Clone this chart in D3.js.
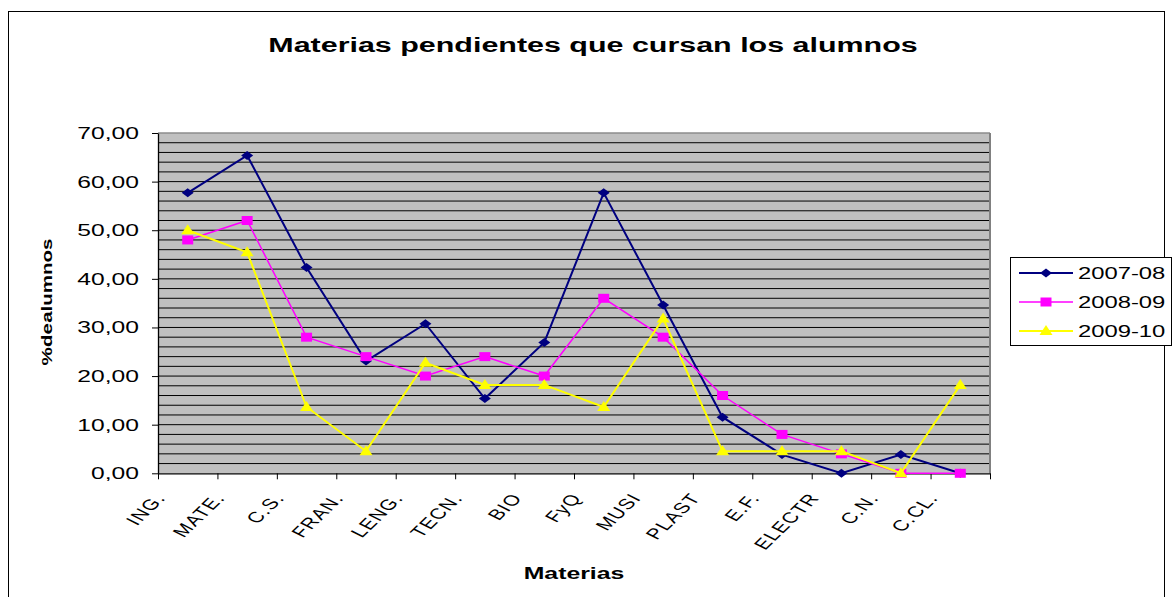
<!DOCTYPE html>
<html>
<head>
<meta charset="utf-8">
<script src="https://cdn.jsdelivr.net/npm/d3@7"></script>
<style>
  body { margin: 0; background: #fff; }
  text { font-family: Arial, "Liberation Sans", sans-serif; }
</style>
</head>
<body>
<div id="chart"></div>
<script>
// chart data
var materias = ["ING.", "MATE.", "C.S.", "FRAN.", "LENG.", "TECN.", "BIO", "FyQ", "MUSI", "PLAST", "E.F.", "ELECTR", "C.N.", "C.CL."];
var curso0708 = [57.69, 65.38, 42.31, 23.08, 30.77, 15.38, 26.92, 57.69, 34.62, 11.54, 3.85, 0, 3.85, 0];
var curso0809 = [48, 52, 28, 24, 20, 24, 20, 36, 28, 16, 8, 4, 0, 0];
var curso0910 = [50, 45.45, 13.64, 4.55, 22.73, 18.18, 18.18, 13.64, 31.82, 4.55, 4.55, 4.55, 0, 18.18];
var seriesNames = ["2007-08", "2008-09", "2009-10"];
var yTicks = [0, 10, 20, 30, 40, 50, 60, 70];

var series = [
  {name: seriesNames[0], values: curso0708, color: "#000080", width: 2, marker: "diamond"},
  {name: seriesNames[1], values: curso0809, color: "#ff00ff", width: 1.5, marker: "square"},
  {name: seriesNames[2], values: curso0910, color: "#ffff00", width: 2, marker: "triangle"}
];

// dimensions of the page and the plot area
var W = 1173, H = 597;
var plot = {left: 158, right: 990, top: 133, bottom: 473.3};
var stretch = 1.45; // the original picture is stretched horizontally

var svg = d3.select("#chart")
  .append("svg")
    .attr("width", W)
    .attr("height", H);

// outer frame
svg.append("rect")
  .attr("x", 8.5)
  .attr("y", 11.5)
  .attr("width", 1156)
  .attr("height", 620)
  .attr("fill", "#fff")
  .attr("stroke", "#000")
  .attr("stroke-width", 1);

// scales
var y = d3.scaleLinear()
  .domain([0, 70])
  .range([plot.bottom, plot.top]);

var x = d3.scaleBand()
  .domain(materias)
  .range([plot.left, plot.right])
  .padding(0);

var xIdx = d3.scaleLinear()
  .domain([0, materias.length])
  .range([plot.left, plot.right]);

// plot background
svg.append("rect")
  .attr("x", plot.left)
  .attr("y", plot.top)
  .attr("width", plot.right - plot.left)
  .attr("height", plot.bottom - plot.top)
  .attr("fill", "#c0c0c0");

// horizontal grid lines every 2 units
svg.append("g")
  .selectAll("line")
  .data(d3.range(2, 70, 2))
  .enter()
  .append("line")
    .attr("x1", plot.left)
    .attr("x2", plot.right)
    .attr("y1", function(d) { return y(d); })
    .attr("y2", function(d) { return y(d); })
    .attr("stroke", "#000")
    .attr("stroke-width", 1);

// top and right border of plot area
svg.append("line")
  .attr("x1", plot.left).attr("x2", plot.right)
  .attr("y1", plot.top).attr("y2", plot.top)
  .attr("stroke", "#8c8c8c").attr("stroke-width", 1.5);
svg.append("line")
  .attr("x1", plot.right).attr("x2", plot.right)
  .attr("y1", plot.top).attr("y2", plot.bottom)
  .attr("stroke", "#808080").attr("stroke-width", 2);

// Y axis
var yAxis = svg.append("g")
  .attr("transform", "translate(" + plot.left + ",0)")
  .call(d3.axisLeft(y)
    .tickValues(yTicks)
    .tickSize(6)
    .tickSizeOuter(0)
    .tickFormat(function(d) { return d3.format(".2f")(d).replace(".", ","); }));
yAxis.attr("font-size", 17).attr("font-family", null);
yAxis.select(".domain").attr("stroke", "#000").attr("stroke-width", 1.3);
yAxis.selectAll(".tick line").attr("stroke", "#000");
yAxis.selectAll(".tick text")
  .attr("x", 0)
  .attr("fill", "#000")
  .attr("transform", "translate(-19,0) scale(" + stretch + ",1)");

// X axis: ticks between categories
var xAxis = svg.append("g")
  .attr("transform", "translate(0," + plot.bottom + ")")
  .call(d3.axisBottom(xIdx)
    .tickValues(d3.range(materias.length + 1))
    .tickSize(6)
    .tickSizeOuter(0)
    .tickFormat(""));
xAxis.select(".domain").attr("stroke", "#000").attr("stroke-width", 1.3);
xAxis.selectAll(".tick line").attr("stroke", "#000");

// category labels: rotated, then stretched with the page
svg.append("g")
  .selectAll("text")
  .data(materias)
  .enter()
  .append("text")
    .attr("transform", function(d) {
      var cx = x(d) + x.bandwidth() / 2;
      return "translate(" + (cx - 21) + ",498) scale(" + stretch + ",1) rotate(-54)";
    })
    .attr("text-anchor", "end")
    .attr("font-size", 15)
    .attr("letter-spacing", 1)
    .attr("fill", "#000")
    .text(function(d) { return d; });

// marker shapes
function markerPath(type) {
  if (type == "diamond") return "M-6,0L0,-4.5L6,0L0,4.5Z";
  if (type == "square") return "M-5.5,-4.5H5.5V4.5H-5.5Z";
  return "M0,-6L6.5,4H-6.5Z";
}

var line = d3.line()
  .x(function(d, i) { return x(materias[i]) + x.bandwidth() / 2; })
  .y(function(d) { return y(d); });

// lines and markers
series.forEach(function(s) {
  svg.append("path")
    .datum(s.values)
    .attr("fill", "none")
    .attr("stroke", s.color)
    .attr("stroke-width", s.width)
    .attr("d", line);

  svg.append("g")
    .selectAll("path")
    .data(s.values)
    .enter()
    .append("path")
      .attr("transform", function(d, i) {
        return "translate(" + (x(materias[i]) + x.bandwidth() / 2) + "," + y(d) + ")";
      })
      .attr("d", markerPath(s.marker))
      .attr("fill", s.color);
});

// title
svg.append("text")
  .attr("transform", "translate(593,52) scale(" + stretch + ",1)")
  .attr("text-anchor", "middle")
  .attr("font-size", 21)
  .attr("font-weight", "bold")
  .text("Materias pendientes que cursan los alumnos");

// x axis title
svg.append("text")
  .attr("transform", "translate(574,579) scale(1.55,1)")
  .attr("text-anchor", "middle")
  .attr("font-size", 16)
  .attr("font-weight", "bold")
  .text("Materias");

// y axis title
svg.append("text")
  .attr("transform", "translate(52,302) rotate(-90)")
  .attr("text-anchor", "middle")
  .attr("font-size", 15)
  .attr("font-weight", "bold")
  .attr("word-spacing", -4)
  .attr("textLength", 127)
  .attr("lengthAdjust", "spacingAndGlyphs")
  .text("% de alumnos");

// legend
var legend = svg.append("g");
legend.append("rect")
  .attr("x", 1010.5)
  .attr("y", 257.5)
  .attr("width", 161)
  .attr("height", 88)
  .attr("fill", "#fff")
  .attr("stroke", "#000")
  .attr("stroke-width", 1);

var items = legend.selectAll(".item")
  .data(series)
  .enter()
  .append("g")
    .attr("class", "item")
    .attr("transform", function(d, i) { return "translate(0," + (273 + i * 29) + ")"; });

items.append("line")
  .attr("x1", 1019)
  .attr("x2", 1073)
  .attr("stroke", function(d) { return d.color; })
  .attr("stroke-width", function(d) { return d.width; });

items.append("path")
  .attr("transform", "translate(1046,0)")
  .attr("d", function(d) { return markerPath(d.marker); })
  .attr("fill", function(d) { return d.color; });

items.append("text")
  .attr("transform", "translate(1078,6) scale(1.4,1)")
  .attr("font-size", 17)
  .attr("fill", "#000")
  .text(function(d) { return d.name; });
</script>
</body>
</html>
